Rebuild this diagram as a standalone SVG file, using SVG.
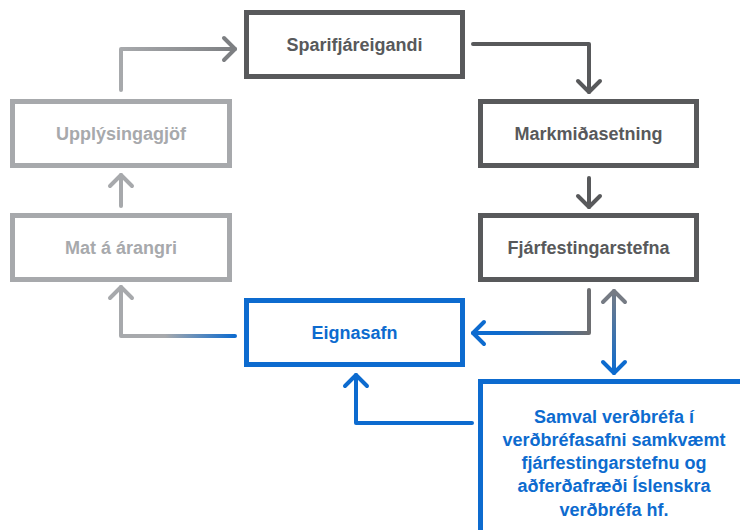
<svg xmlns="http://www.w3.org/2000/svg" width="740" height="530" viewBox="0 0 740 530">
<style>
.box{fill:#fff;stroke-width:5}
.dark{stroke:#58595b}
.light{stroke:#a7a9ac}
.blue{stroke:#0d6bcf}
.t{font-family:"Liberation Sans",Arial,sans-serif;font-weight:bold;font-size:18px;text-anchor:middle}
.td{fill:#58595b}
.tl{fill:#a7a9ac}
.tb{fill:#0d6bcf}
.c{fill:none;stroke-width:4;stroke-linecap:round;stroke-linejoin:round}
</style>
<defs>
<marker id="aDark" markerUnits="userSpaceOnUse" viewBox="-16 -16 20 32" refX="0" refY="0" markerWidth="20" markerHeight="32" orient="auto" overflow="visible"><path d="M-11,-11 L0,0 L-11,11" fill="none" stroke="#58595b" stroke-width="4" stroke-linecap="round" stroke-linejoin="round"/></marker>
<marker id="aMid" markerUnits="userSpaceOnUse" viewBox="-16 -16 20 32" refX="0" refY="0" markerWidth="20" markerHeight="32" orient="auto" overflow="visible"><path d="M-11,-11 L0,0 L-11,11" fill="none" stroke="#7d7f82" stroke-width="4" stroke-linecap="round" stroke-linejoin="round"/></marker>
<marker id="aLight" markerUnits="userSpaceOnUse" viewBox="-16 -16 20 32" refX="0" refY="0" markerWidth="20" markerHeight="32" orient="auto" overflow="visible"><path d="M-11,-11 L0,0 L-11,11" fill="none" stroke="#a7a9ac" stroke-width="4" stroke-linecap="round" stroke-linejoin="round"/></marker>
<marker id="aBlue" markerUnits="userSpaceOnUse" viewBox="-16 -16 20 32" refX="0" refY="0" markerWidth="20" markerHeight="32" orient="auto" overflow="visible"><path d="M-11,-11 L0,0 L-11,11" fill="none" stroke="#0d6bcf" stroke-width="4" stroke-linecap="round" stroke-linejoin="round"/></marker>
<marker id="aGrayS" markerUnits="userSpaceOnUse" viewBox="-16 -16 20 32" refX="0" refY="0" markerWidth="20" markerHeight="32" orient="auto-start-reverse" overflow="visible"><path d="M-11,-11 L0,0 L-11,11" fill="none" stroke="#767b84" stroke-width="4" stroke-linecap="round" stroke-linejoin="round"/></marker>
<linearGradient id="g1" gradientUnits="userSpaceOnUse" x1="121" y1="0" x2="235" y2="0"><stop offset="0" stop-color="#a7a9ac"/><stop offset="1" stop-color="#7d7f82"/></linearGradient>
<linearGradient id="g5" gradientUnits="userSpaceOnUse" x1="165" y1="0" x2="235" y2="0"><stop offset="0" stop-color="#a7a9ac"/><stop offset="1" stop-color="#0d6bcf"/></linearGradient>
<linearGradient id="g6" gradientUnits="userSpaceOnUse" x1="589" y1="0" x2="505" y2="0"><stop offset="0" stop-color="#6d6e71"/><stop offset="1" stop-color="#0d6bcf"/></linearGradient>
<linearGradient id="g7" gradientUnits="userSpaceOnUse" x1="0" y1="291" x2="0" y2="373"><stop offset="0" stop-color="#767b84"/><stop offset="1" stop-color="#0d6bcf"/></linearGradient>
</defs>
<g id="connectors">
<path class="c" d="M121,90 V49 H235" stroke="url(#g1)" marker-end="url(#aMid)"/>
<path class="c" d="M473,44 H589 V92" stroke="#58595b" marker-end="url(#aDark)"/>
<path class="c" d="M589,178 V207" stroke="#58595b" marker-end="url(#aDark)"/>
<path class="c" d="M121,206 V175" stroke="#a7a9ac" marker-end="url(#aLight)"/>
<path class="c" d="M235,336 H121 V287" stroke="url(#g5)" marker-end="url(#aLight)"/>
<path class="c" d="M589,290 V333 H473" stroke="url(#g6)" marker-end="url(#aBlue)"/>
<path class="c" d="M614,291 V373" stroke="url(#g7)" marker-start="url(#aGrayS)" marker-end="url(#aBlue)"/>
<path class="c" d="M472,423 H356 V375" stroke="#0d6bcf" marker-end="url(#aBlue)"/>
</g>
<g id="sparifjareigandi"><rect class="box dark" x="246.5" y="12.5" width="216" height="64"/><text class="t td" x="354.5" y="51">Sparifjáreigandi</text></g>
<g id="upplysingagjof"><rect class="box light" x="12.5" y="101.5" width="217" height="64"/><text class="t tl" x="121" y="140">Upplýsingagjöf</text></g>
<g id="mat"><rect class="box light" x="12.5" y="215.5" width="217" height="64"/><text class="t tl" x="121" y="254">Mat á árangri</text></g>
<g id="markmidasetning"><rect class="box dark" x="480.5" y="101.5" width="216" height="64"/><text class="t td" x="588.5" y="140">Markmiðasetning</text></g>
<g id="fjarfestingarstefna"><rect class="box dark" x="480.5" y="215.5" width="216" height="64"/><text class="t td" x="588.5" y="254">Fjárfestingarstefna</text></g>
<g id="eignasafn"><rect class="box blue" x="246.5" y="300.5" width="216" height="64"/><text class="t tb" x="354.5" y="339">Eignasafn</text></g>
<g id="samval"><rect class="box blue" x="480.5" y="381.5" width="300" height="200"/>
<text class="t tb" x="614"><tspan x="614" y="423">Samval verðbréfa í</tspan><tspan x="614" y="446">verðbréfasafni samkvæmt</tspan><tspan x="614" y="469">fjárfestingarstefnu og</tspan><tspan x="614" y="492">aðferðafræði Íslenskra</tspan><tspan x="614" y="516">verðbréfa hf.</tspan></text></g>
</svg>
